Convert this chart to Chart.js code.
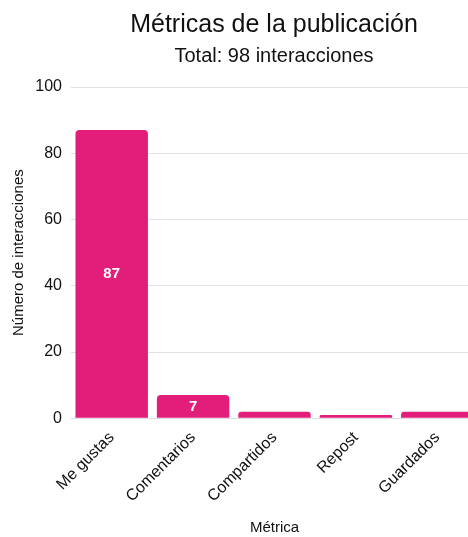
<!DOCTYPE html>
<html>
<head>
<meta charset="utf-8">
<script src="https://cdn.jsdelivr.net/npm/chart.js@4"></script>
<style>
  html, body { margin: 0; padding: 0; background: #fff; overflow: hidden; }
</style>
</head>
<body>
<canvas id="grafico" width="548" height="537"></canvas>
<script>
// datos
const metricas = ['Me gustas', 'Comentarios', 'Compartidos', 'Repost', 'Guardados']
const valores = [87, 7, 2, 1, 2]
const ticksY = [0, 20, 40, 60, 80, 100]

const fuente = "'Liberation Sans', Arial, sans-serif"
const rosa = '#E31D7A'

// etiquetas blancas dentro de las barras grandes
const etiquetas = {
    id: 'etiquetas',
    afterDatasetsDraw(chart) {
        const ctx = chart.ctx
        const meta = chart.getDatasetMeta(0)
        ctx.save()
        ctx.fillStyle = '#fff'
        ctx.font = 'bold 15px ' + fuente
        ctx.textAlign = 'center'
        ctx.textBaseline = 'middle'
        meta.data.forEach((barra, i) => {
            if (valores[i] < 5) return
            ctx.fillText(String(valores[i]), barra.x, (barra.y + barra.base) / 2)
        })
        ctx.restore()
    }
}

new Chart(document.getElementById('grafico'), {
    type: 'bar',
    data: {
        labels: metricas,
        datasets: [{
            data: valores,
            backgroundColor: rosa,
            borderRadius: { topLeft: 4, topRight: 4 },
            borderSkipped: 'bottom',
            barPercentage: 0.89,
            categoryPercentage: 1
        }]
    },
    options: {
        responsive: false,
        animation: false,
        layout: { padding: { left: 0, right: 0, top: 4, bottom: 0 } },
        plugins: {
            legend: { display: false },
            tooltip: { enabled: false },
            title: {
                display: true,
                text: 'Métricas de la publicación',
                color: '#111',
                font: { family: fuente, size: 25, weight: 'normal' },
                padding: { top: 6, bottom: 2 }
            },
            subtitle: {
                display: true,
                text: 'Total: 98 interacciones',
                color: '#111',
                font: { family: fuente, size: 20, weight: 'normal' },
                padding: { top: 2, bottom: 19 }
            }
        },
        scales: {
            x: {
                grid: { display: false, drawTicks: false },
                border: { color: '#ddd' },
                ticks: {
                    color: '#111',
                    font: { family: fuente, size: 16 },
                    maxRotation: 45,
                    minRotation: 45,
                    padding: 10
                },
                title: {
                    display: true,
                    text: 'Métrica',
                    color: '#111',
                    font: { family: fuente, size: 15 },
                    padding: { top: 3, bottom: 0 }
                }
            },
            y: {
                min: 0,
                max: 100,
                afterBuildTicks: axis => { axis.ticks = ticksY.map(v => ({ value: v })) },
                afterFit: axis => { axis.width = 71 },
                grid: { color: '#e2e2e2', drawTicks: false },
                border: { display: false },
                ticks: {
                    color: '#111',
                    font: { family: fuente, size: 16 },
                    padding: 9
                },
                title: {
                    display: true,
                    text: 'Número de interacciones',
                    color: '#111',
                    font: { family: fuente, size: 15 },
                    padding: { top: 10, bottom: 0 }
                }
            },
            // eje vacio a la derecha: deja el area de barras mas estrecha que el lienzo
            derecha: {
                type: 'linear',
                position: 'right',
                display: true,
                afterFit: axis => { axis.width = 70 },
                grid: { display: false, drawTicks: false },
                border: { display: false },
                ticks: { display: false }
            }
        }
    },
    plugins: [etiquetas]
})
</script>
</body>
</html>
